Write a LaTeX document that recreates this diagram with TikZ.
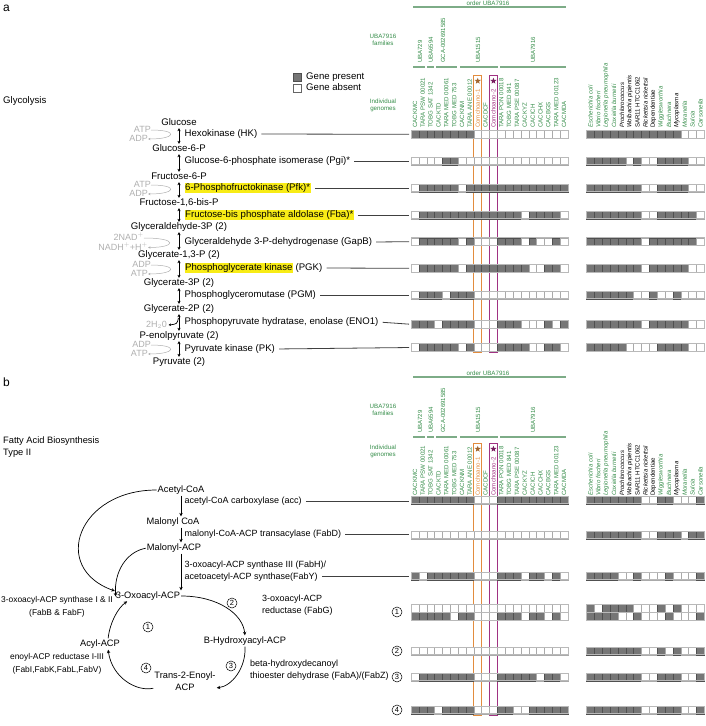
\documentclass[tikz,border=0pt]{standalone}
\usepackage{fontspec}
\setmainfont{Liberation Sans}
\usetikzlibrary{arrows.meta,shapes.geometric}
\definecolor{ordgreen}{RGB}{52,140,72}
\definecolor{barline}{RGB}{125,172,135}
\definecolor{oncell}{RGB}{118,118,118}
\definecolor{onedge}{RGB}{80,80,80}
\definecolor{offedge}{RGB}{170,170,170}
\definecolor{frameedge}{RGB}{185,185,185}
\definecolor{cofac}{RGB}{175,175,175}
\definecolor{hly}{RGB}{248,236,22}
\definecolor{choA}{RGB}{226,140,62}
\definecolor{choB}{RGB}{160,50,130}
\definecolor{starA}{RGB}{160,100,45}
\definecolor{starB}{RGB}{120,30,95}
\newcommand{\hlt}[1]{{\setlength{\fboxsep}{0.5pt}\colorbox{hly}{#1}}}
\newcommand{\generow}[5]{%
  \foreach \bit [count=\col] in {#5} {%
    \ifnum\bit=1 \draw[cellon] ({#2+(\col-1)*\dx},{#3-0.5*\dx}) rectangle ++(\dx,\dx);%
    \else \draw[celloff] ({#2+(\col-1)*\dx},{#3-0.5*\dx}) rectangle ++(\dx,\dx);\fi}
  \draw[rowframe] (#2,{#3-0.5*\dx}) rectangle ++({#4*\dx},\dx);
  \coordinate (#1) at (#2,#3);}
\newcommand{\orderhead}[4]{%
  \begin{scope}[shift={(0,#1)}]
  \node[grn] (#4ord) at (488,3) {order UBA7916};
  \draw[ordbar] (413,7) -- (566,7);
  \node[grn] (#4fam) at (383,40) {UBA7916\\families};
  \node[flab] (#4f1) at (420,63) {UBA729};
  \node[flab] (#4f2) at (430.7,63) {UBA6594};
  \node[flab] (#4f3) at (443,63) {GCA-002691585};
  \node[flab] (#4f4) at (478,63) {UBA1515};
  \node[flab] (#4f5) at (533,63) {UBA7916};
  \draw[fambar] (413,67) -- (425,67);
  \draw[fambar] (427,67) -- (434,67);
  \draw[fambar] (436,67) -- (457,67);
  \draw[fambar] (460,67) -- (498,67);
  \draw[fambar] (500,67) -- (566,67);
  \end{scope}
  \begin{scope}[shift={(0,#2)}]
  \foreach \nm/\cl [count=\k] in {CACKMC/ordgreen,TARA PSW 00021/ordgreen,TOBG SAT 1342/ordgreen,CACKTD/ordgreen,TARA MED 00061/ordgreen,TOBG MED 753/ordgreen,CACKNM/ordgreen,TARA ANE 00012/ordgreen,Comchoano-1/choA,CACDCF/ordgreen,Comchoano-2/choB,TARA PON 00018/ordgreen,TOBG MED 841/ordgreen,TARA PSE 00087/ordgreen,CACKYZ/ordgreen,CACICH/ordgreen,CACCHX/ordgreen,CACBGS/ordgreen,TARA MED 00123/ordgreen,CACMDA/ordgreen}
    {\node[glab,text=\cl] (#4g\k) at ({\gxa+(\k-0.5)*\dx},128) {\nm};}
  \foreach \nm/\cl [count=\k] in {Escherichia coli/ordgreen,Vibrio fischeri/ordgreen,Legionella pneumophila/ordgreen,Coxiella burnetii/ordgreen,Prochlorococcus/black,Wolbachia pipientis/black,\upshape SAR11 HTCC1062/black,Rickettsia rickettsii/black,\upshape Dependentiae/black,Wigglesworthia/ordgreen,Buchnera/ordgreen,Mycoplasma/black,Moranella/ordgreen,Sulcia/ordgreen,Carsonella/ordgreen}
    {\node[glab,text=\cl,font=\fontsize{6.1}{6.1}\selectfont\itshape] (#4s\k) at ({\gxb+(\k-0.5)*\dx},128) {\nm};}
  \draw[choA,line width=0.9pt] ({\gxa+8*\dx},75) rectangle ({\gxa+9*\dx},#3);
  \draw[choB,line width=0.9pt] ({\gxa+10*\dx},75) rectangle ({\gxa+11*\dx},#3);
  \node[comstar,fill=starA] (#4sa) at ({\gxa+8.5*\dx},81) {};
  \node[comstar,fill=starB] (#4sb) at ({\gxa+10.5*\dx},81) {};
  \end{scope}}
\begin{document}
\begin{tikzpicture}[x=1pt,y=-1pt,
  met/.style={font=\fontsize{9.6}{12}\selectfont,inner sep=0pt,text height=7pt,text depth=2pt},
  enz/.style={met,anchor=west},
  metb/.style={font=\fontsize{9.3}{12.2}\selectfont,inner sep=0pt,text height=7pt,text depth=2pt},
  enzb/.style={metb,font=\fontsize{9}{12}\selectfont,anchor=west},
  sideb/.style={metb,font=\fontsize{8.4}{12.6}\selectfont,align=center},
  cof/.style={font=\fontsize{9}{10}\selectfont,text=cofac,inner sep=0pt,anchor=east,text height=6pt,text depth=1pt},
  cofarr/.style={draw=cofac,line width=0.5pt,-{Stealth[length=2.5pt,width=2.2pt]}},
  dbl/.style={line width=0.7pt,{Stealth[length=3pt,width=3.2pt]}-{Stealth[length=3pt,width=3.2pt]},shorten <=0.5pt,shorten >=0.5pt},
  one/.style={line width=0.7pt,-{Stealth[length=3.5pt,width=3.4pt]},shorten <=1pt,shorten >=1pt},
  conn/.style={draw=black!75,line width=0.8pt,shorten <=4pt,shorten >=2pt},
  grn/.style={font=\fontsize{6.2}{7.2}\selectfont,text=ordgreen,align=center,inner sep=0pt},
  flab/.style={font=\fontsize{6}{6}\selectfont,text=ordgreen,rotate=90,anchor=west,inner sep=0pt},
  glab/.style={font=\fontsize{6.1}{6.1}\selectfont,rotate=90,anchor=west,inner sep=0pt},
  ordbar/.style={draw=barline,line width=1.3pt},
  fambar/.style={draw=barline,line width=1.3pt},
  cellon/.style={fill=oncell,draw=onedge,line width=0.35pt},
  celloff/.style={fill=white,draw=offedge,line width=0.35pt},
  rowframe/.style={draw=frameedge,line width=0.9pt},
  comstar/.style={star,star points=5,star point ratio=2.4,inner sep=0pt,minimum size=6.5pt},
  panel/.style={font=\fontsize{12}{12}\selectfont,anchor=west,inner sep=0pt},
  cnum/.style={circle,draw,line width=0.5pt,inner sep=0.6pt,minimum size=10pt,font=\fontsize{7.5}{8}\selectfont}]
\useasboundingbox (0,0) rectangle (705,726);
\def\dx{7.85}
\def\gxa{411}
\def\gxb{586.5}

\node[panel] (pa) at (3,8) {a};
\node[panel] (pb) at (3,382) {b};

\orderhead{0}{0}{352}{ha}
\node[grn] (haind) at (383,105) {Individual\\genomes};
\draw[cellon] (293,73) rectangle ++(8,8);
\draw[celloff,draw=black!60] (293,84) rectangle ++(8,8);
\node[met,anchor=west] (lgon) at (306,77) {Gene present};
\node[met,anchor=west] (lgoff) at (306,88) {Gene absent};

\node[met,anchor=west] (gly) at (3,101) {Glycolysis};

\node[met] (glc) at (179,123) {Glucose};
\node[met] (g6p) at (179,149) {Glucose-6-P};
\node[met] (f6p) at (179,177) {Fructose-6-P};
\node[met] (fbp) at (179,203) {Fructose-1,6-bis-P};
\node[met] (gap) at (179,227) {Glyceraldehyde-3P (2)};
\node[met] (bpg) at (179,255) {Glycerate-1,3-P (2)};
\node[met] (pga) at (179,283) {Glycerate-3P (2)};
\node[met] (pgb) at (179,309) {Glycerate-2P (2)};
\node[met] (pep) at (179,336) {P-enolpyruvate (2)};
\node[met] (pyr) at (179,362) {Pyruvate (2)};
\draw[dbl] (glc) -- (g6p);
\draw[dbl] (g6p) -- (f6p);
\draw[dbl] (f6p) -- (fbp);
\draw[dbl] (fbp) -- (gap);
\draw[dbl] (gap) -- (bpg);
\draw[dbl] (bpg) -- (pga);
\draw[dbl] (pga) -- (pgb);
\draw[dbl] (pgb) -- (pep);
\draw[dbl] (pep) -- (pyr);

\node[enz] (hk) at (184.5,134) {Hexokinase (HK)};
\node[enz] (pgi) at (184.5,161) {Glucose-6-phosphate isomerase (Pgi)*};
\node[enz] (pfk) at (184.5,188) {\hlt{6-Phosphofructokinase (Pfk)*}};
\node[enz] (fba) at (184.5,215) {\hlt{Fructose-bis phosphate aldolase (Fba)*}};
\node[enz] (gapb) at (184.5,242) {Glyceraldehyde 3-P-dehydrogenase (GapB)};
\node[enz] (pgk) at (184.5,268) {\hlt{Phosphoglycerate kinase} (PGK)};
\node[enz] (pgm) at (184.5,295) {Phosphoglyceromutase (PGM)};
\node[enz] (eno) at (184.5,322) {Phosphopyruvate hydratase, enolase (ENO1)};
\node[enz] (pk) at (184.5,349) {Pyruvate kinase (PK)};

\node[cof] (ca1) at (151,130) {ATP};
\node[cof] (cb1) at (148,139) {ADP};
\node[cof] (ca2) at (151,185) {ATP};
\node[cof] (cb2) at (148,194) {ADP};
\node[cof] (ca3) at (144,238) {2NAD$^+$};
\node[cof] (cb3) at (148,247.5) {NADH$^+$+H$^+$};
\node[cof] (ca4) at (151,265) {ADP};
\node[cof] (cb4) at (148,274) {ATP};
\node[cof] (ca6) at (151,345) {ADP};
\node[cof] (cb6) at (148,354) {ATP};
\node[cof,anchor=west] (h2o) at (146,325) {2H$_2$0};
\draw[cofarr] (ca1.east) .. controls +(28,0) and +(28,0) .. (cb1.east);
\draw[cofarr] (ca2.east) .. controls +(28,0) and +(28,0) .. (cb2.east);
\draw[cofarr] (ca3.east) .. controls +(35,0) and +(28,0) .. (cb3.east);
\draw[cofarr] (ca4.east) .. controls +(28,0) and +(28,0) .. (cb4.east);
\draw[cofarr] (ca6.east) .. controls +(28,0) and +(28,0) .. (cb6.east);
\coordinate (enoarr) at (178.5,318);
\draw[line width=0.7pt,-{Stealth[length=2.5pt,width=2.5pt]}] (enoarr) .. controls (177,324) .. ([xshift=1.5pt]h2o.east);

\generow{rhk}{\gxa}{134.3}{20}{1,1,1,1,1,1,1,1,0,0,0,0,0,0,0,0,0,0,0,0}
\generow{rpgi}{\gxa}{161}{20}{0,0,0,0,1,1,0,0,0,0,0,0,0,0,0,0,0,0,0,0}
\generow{rpfk}{\gxa}{188}{20}{0,1,1,1,1,1,0,1,1,1,1,1,1,1,1,1,1,1,1,1}
\generow{rfba}{\gxa}{215}{20}{0,1,1,1,1,1,1,1,1,1,1,1,1,1,0,1,1,1,1,0}
\generow{rgapb}{\gxa}{241.7}{20}{0,1,1,1,1,1,0,1,0,0,0,1,1,1,0,1,0,0,1,0}
\generow{rpgk}{\gxa}{268.3}{20}{0,1,1,1,1,1,0,1,1,1,1,1,1,1,1,0,0,1,1,0}
\generow{rpgm}{\gxa}{295}{20}{0,1,1,1,0,1,1,1,0,0,0,0,0,0,0,0,0,0,0,0}
\generow{reno}{\gxa}{324.3}{20}{1,1,1,0,1,1,1,1,0,0,0,1,1,1,0,0,0,1,0,1}
\generow{rpk}{\gxa}{347.5}{20}{0,1,1,1,1,1,0,1,0,0,0,1,1,1,1,0,0,1,1,0}
\generow{shk}{\gxb}{134.3}{15}{1,1,1,1,1,1,1,1,1,1,1,1,0,0,0}
\generow{spgi}{\gxb}{161}{15}{1,1,1,1,1,0,1,0,0,1,1,1,1,0,0}
\generow{spfk}{\gxb}{188}{15}{1,1,1,1,1,1,1,0,0,1,1,1,1,0,0}
\generow{sfba}{\gxb}{215}{15}{1,1,1,1,1,1,1,0,0,1,1,1,1,1,0}
\generow{sgapb}{\gxb}{241.7}{15}{1,1,1,1,1,1,1,0,1,1,1,1,1,1,0}
\generow{spgk}{\gxb}{268.3}{15}{1,1,1,1,1,1,1,0,1,1,1,1,1,0,0}
\generow{spgm}{\gxb}{295}{15}{1,1,1,1,1,1,0,0,1,0,0,1,0,0,0}
\generow{seno}{\gxb}{324.3}{15}{1,1,1,1,1,1,1,0,1,1,1,1,1,0,0}
\generow{spk}{\gxb}{347.5}{15}{1,1,1,1,1,0,0,0,0,1,1,1,1,0,0}
\draw[conn] (hk.east) -- (rhk);
\draw[conn] (pgi.east) -- (rpgi);
\draw[conn] (pfk.east) -- (rpfk);
\draw[conn] (fba.east) -- (rfba);
\draw[conn] (gapb.east) -- (rgapb);
\draw[conn] (pgk.east) -- (rpgk);
\draw[conn] (pgm.east) -- (rpgm);
\draw[conn] (eno.east) -- (reno);
\draw[conn] (pk.east) -- (rpk);

\orderhead{370}{368}{347}{hb}
\node[grn] (hbind) at (383,451) {Individual\\genomes};

\node[metb,anchor=north west,align=left] (fas) at (3,448) {Fatty Acid Biosynthesis\\Type II};

\node[metb] (acoa) at (181,490) {Acetyl-CoA};
\node[metb] (mcoa) at (173,522) {Malonyl CoA};
\node[metb] (macp) at (174,548) {Malonyl-ACP};
\node[metb] (oxo) at (148,596) {3-Oxoacyl-ACP};
\node[metb] (hyd) at (245,641) {B-Hydroxyacyl-ACP};
\node[metb,align=center] (enoyl) at (185,688) {Trans-2-Enoyl-\\ACP};
\node[metb] (acyl) at (100,644) {Acyl-ACP};
\draw[one] (acoa.south -| 181,0) -- (mcoa.north -| 181,0);
\draw[one] (mcoa.south -| 181,0) -- (macp.north -| 181,0);
\draw[one] (macp.south -| 181,0) -- (oxo.north -| 181,0);
\draw[one] (acoa.west) .. controls (78,490) and (50,568) .. (oxo.north west);
\draw[one] (macp.west) .. controls (126,552) and (114,572) .. ([yshift=-1.5pt]oxo.west);
\draw[one] (oxo.east) .. controls (218,596) and (243,614) .. (hyd.north);
\draw[one] (hyd.south) .. controls (246,668) and (232,686) .. (enoyl.east);
\draw[one] (enoyl.west) .. controls (137,692) and (112,678) .. ([xshift=8pt]acyl.south);
\draw[one] ([xshift=8pt]acyl.north) .. controls (110,622) and (118,608) .. ([xshift=-20pt]oxo.south);

\node[enzb] (acc) at (184.5,501) {acetyl-CoA carboxylase (acc)};
\node[enzb] (fabd) at (184.5,534) {malonyl-CoA-ACP transacylase (FabD)};
\node[enzb] (fabh) at (184.5,565) {3-oxoacyl-ACP synthase III (FabH)/};
\node[enzb] (faby) at (184.5,576.5) {acetoacetyl-ACP synthase(FabY)};
\node[sideb] (fabbf) at (57,613) {3-oxoacyl-ACP synthase I \& II\\(FabB \& FabF)};
\node[enzb,align=left] (fabg) at (262,611) {3-oxoacyl-ACP\\reductase (FabG)};
\node[enzb,align=left] (fabaz) at (250,676) {beta-hydroxydecanoyl\\thioester dehydrase (FabA)/(FabZ)};
\node[sideb] (fabi) at (57,670) {enoyl-ACP reductase I-III\\(FabI,FabK,FabL,FabV)};
\node[cnum] (c1) at (148,627) {1};
\node[cnum] (c2) at (232,603) {2};
\node[cnum] (c3) at (231,666) {3};
\node[cnum] (c4) at (146,668) {4};

\generow{racc}{\gxa}{500}{20}{1,1,1,1,1,1,1,1,0,0,0,1,1,1,1,1,1,1,1,1}
\generow{rfabd}{\gxa}{535}{20}{0,0,0,0,0,0,0,0,0,0,0,0,0,0,0,0,0,0,0,0}
\generow{rfabh}{\gxa}{576}{20}{1,0,1,1,1,1,1,1,0,0,0,1,1,1,0,1,1,0,1,0}
\generow{roa}{\gxa}{608.3}{20}{0,0,0,0,0,0,0,0,0,0,0,0,0,0,0,0,0,0,0,0}
\generow{rob}{\gxa}{616.15}{20}{1,1,1,1,1,0,1,1,0,0,0,1,1,1,0,1,1,0,1,0}
\generow{rtwo}{\gxa}{651}{20}{0,0,0,0,0,0,0,0,0,0,0,0,0,0,0,0,0,0,0,0}
\generow{rthree}{\gxa}{677}{20}{0,1,1,1,1,1,1,1,0,0,0,1,1,1,1,1,0,1,1,0}
\generow{rfour}{\gxa}{710}{20}{1,1,1,0,1,1,1,1,0,0,0,1,1,0,0,1,1,1,1,1}
\generow{sacc}{\gxb}{500}{15}{1,1,1,1,1,1,1,0,0,1,1,0,0,0,1}
\generow{sfabd}{\gxb}{535}{15}{1,1,1,1,1,1,1,0,0,1,1,1,0,1,1}
\generow{sfabh}{\gxb}{576}{15}{1,1,1,1,0,0,1,0,0,0,1,0,0,0,1}
\generow{soa}{\gxb}{608.3}{15}{1,0,1,1,1,1,0,0,0,1,0,1,0,0,0}
\generow{sob}{\gxb}{616.15}{15}{1,1,1,1,0,0,1,0,0,0,1,0,0,0,1}
\generow{stwo}{\gxb}{651}{15}{1,1,1,1,1,1,1,0,0,1,0,1,0,0,1}
\generow{sthree}{\gxb}{677}{15}{1,1,1,1,1,1,1,0,0,1,1,1,0,0,1}
\generow{sfour}{\gxb}{710}{15}{1,1,1,1,1,1,1,0,0,1,1,1,0,0,1}
\draw[conn] (acc.east) -- (acc.east -| racc);
\draw[conn] (fabd.east) -- (fabd.east -| rfabd);
\draw[conn] (faby.east) -- (faby.east -| racc);
\node[cnum] (k1) at (397,612) {1};
\node[cnum] (k2) at (397,651) {2};
\node[cnum] (k3) at (397,677) {3};
\node[cnum] (k4) at (397,710) {4};
\end{tikzpicture}
\end{document}
